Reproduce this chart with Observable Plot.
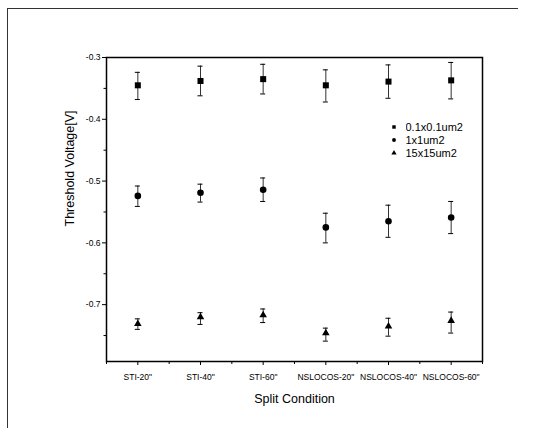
<!DOCTYPE html>
<html><head><meta charset="utf-8">
<script src="https://cdn.jsdelivr.net/npm/d3@7"></script>
<script src="https://cdn.jsdelivr.net/npm/@observablehq/plot@0.6"></script>
<style>
body{margin:0;background:#fff;}
#wrap{position:relative;width:556px;height:428px;overflow:hidden;font-family:"Liberation Sans",Arial,sans-serif;background:#fff;}
#border{position:absolute;left:7px;top:8px;width:510px;height:440px;border-top:1.5px solid #333;border-left:1.5px solid #333;pointer-events:none;}
#chart{position:absolute;left:0;top:0;}
#legend{position:absolute;left:388px;top:121px;}
</style></head><body><div id="wrap"><div id="chart"></div><div id="border"></div><div id="legend"></div></div>
<script>
const categories = ['STI-20"', 'STI-40"', 'STI-60"', 'NSLOCOS-20"', 'NSLOCOS-40"', 'NSLOCOS-60"'];
const series = ["0.1x0.1um2", "1x1um2", "15x15um2"];
const symbols = ["square", "circle", "triangle"];

const sqMean = [-0.345, -0.338, -0.335, -0.345, -0.339, -0.337];
const sqLow  = [-0.368, -0.362, -0.359, -0.372, -0.366, -0.367];
const sqHigh = [-0.324, -0.314, -0.311, -0.320, -0.312, -0.308];

const ciMean = [-0.524, -0.519, -0.514, -0.575, -0.565, -0.559];
const ciLow  = [-0.541, -0.534, -0.533, -0.600, -0.591, -0.585];
const ciHigh = [-0.508, -0.505, -0.495, -0.552, -0.539, -0.533];

const trMean = [-0.731, -0.720, -0.717, -0.746, -0.735, -0.726];
const trLow  = [-0.740, -0.732, -0.729, -0.759, -0.751, -0.746];
const trHigh = [-0.723, -0.713, -0.707, -0.738, -0.722, -0.712];

const yMajor = [-0.3, -0.4, -0.5, -0.6, -0.7];
const yMinor = [-0.35, -0.45, -0.55, -0.65, -0.75];

const means = [sqMean, ciMean, trMean];
const lows = [sqLow, ciLow, trLow];
const highs = [sqHigh, ciHigh, trHigh];
const radii = [3.4, 3.3, 2.8];

const rows = [];
series.forEach((s, k) => categories.forEach((c, i) =>
  rows.push({series: s, k, i, cat: c, v: means[k][i], lo: lows[k][i], hi: highs[k][i]})));

const font = "Liberation Sans, Arial, sans-serif";
const cap = 0.04;

const chart = Plot.plot({
  width: 556, height: 428,
  marginLeft: 106, marginRight: 74, marginTop: 57, marginBottom: 67,
  style: {fontFamily: font, fontSize: "8.5px", color: "#000", background: "transparent"},
  x: {type: "linear", domain: [-0.5, categories.length - 0.5], axis: null},
  y: {domain: [-0.792, -0.3], axis: null},
  marks: [
    Plot.axisX({ticks: d3.range(categories.length), tickFormat: i => categories[i], tickSize: 4, tickPadding: 8, label: null, fontSize: 8.5}),
    Plot.axisX({ticks: d3.range(-0.5, categories.length, 1), tickFormat: () => "", tickSize: 3, label: null}),
    Plot.axisY({ticks: yMajor, tickFormat: d => d.toFixed(1), tickSize: 4, tickPadding: 2, label: null}),
    Plot.axisY({ticks: yMinor, tickFormat: () => "", tickSize: 2.5, label: null}),
    Plot.ruleX(rows, {x: "i", y1: "lo", y2: "hi", stroke: "#333", strokeWidth: 1}),
    Plot.ruleY(rows, {y: "lo", x1: d => d.i - cap, x2: d => d.i + cap, stroke: "#000", strokeWidth: 1}),
    Plot.ruleY(rows, {y: "hi", x1: d => d.i - cap, x2: d => d.i + cap, stroke: "#000", strokeWidth: 1}),
    ...series.map((s, k) => Plot.dot(rows.filter(d => d.k === k), {x: "i", y: "v", symbol: symbols[k], r: radii[k], fill: "#000", stroke: "none"})),
    Plot.frame({stroke: "#000", strokeWidth: 1.5}),
    Plot.text(["Split Condition"], {frameAnchor: "bottom", lineAnchor: "middle", dy: 37, fontSize: 12.5, fill: "#000"}),
    Plot.text(["Threshold Voltage[V]"], {frameAnchor: "left", lineAnchor: "middle", rotate: -90, dx: -37, dy: 17, fontSize: 12.5, fill: "#000"})
  ]
});
document.getElementById("chart").appendChild(chart);

const legend = Plot.legend({
  symbol: {domain: series, range: symbols},
  fill: "#000", stroke: "none", r: 2.6,
  columns: 1, swatchSize: 12,
  style: {fontFamily: font, fontSize: "11px", color: "#000"}
});
document.getElementById("legend").appendChild(legend);
</script></body></html>
